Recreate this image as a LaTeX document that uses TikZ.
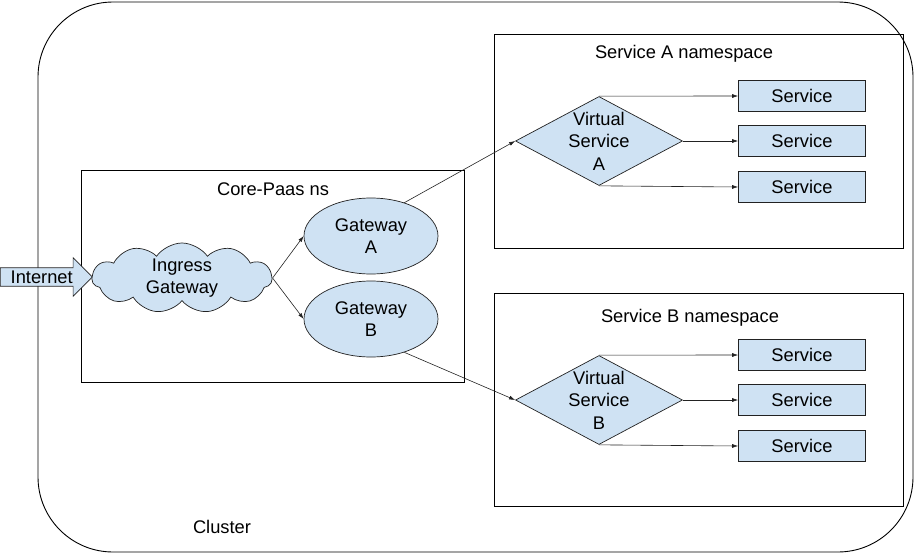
\documentclass[tikz,border=0pt]{standalone}
\usepackage{fontspec}
\setmainfont{Liberation Sans}
\usetikzlibrary{shapes.geometric, shapes.symbols, shapes.arrows, arrows.meta}
\definecolor{paleblue}{HTML}{CFE2F3}
\definecolor{inkline}{HTML}{222222}

\begin{document}
\begin{tikzpicture}[x=1pt, y=-1pt,
    every node/.style={font=\fontsize{18.3}{22.5}\selectfont},
    nsbox/.style={draw=black, line width=0.9pt},
    gwnode/.style={ellipse, draw=inkline, fill=paleblue, line width=0.7pt, inner sep=-4pt,
      minimum width=134pt, minimum height=76pt, align=center},
    vsnode/.style={diamond, draw=inkline, fill=paleblue, line width=0.7pt, inner sep=-9pt,
      aspect=1.88, minimum width=167pt, minimum height=89pt, align=center},
    svcnode/.style={rectangle, draw=inkline, fill=paleblue, line width=0.7pt,
      minimum width=127pt, minimum height=31pt, inner sep=0pt},
    link/.style={-{Latex[length=6pt,width=4pt]}, line width=0.6pt, inkline}]
    \useasboundingbox (0,0) rectangle (919,557);

    % Cluster and namespaces
    \draw[nsbox, rounded corners=75pt] (38,2) rectangle (913,552);
    \node (clusterlbl) at (222,527) {Cluster};
    \draw[nsbox] (81,170) rectangle (464,382);
    \node (corelbl) at (273,189) {Core-Paas ns};
    \draw[nsbox] (494,34) rectangle (903,248);
    \node (nsalbl) at (684,54) {Service A namespace};
    \draw[nsbox] (494,293) rectangle (903,506);
    \node (nsblbl) at (690,318) {Service B namespace};

    % Entry into the cluster
    \node[single arrow, draw=inkline, fill=paleblue, line width=0.7pt, inner xsep=1pt, inner ysep=2.5pt,
      single arrow head extend=10pt, minimum height=92pt, anchor=west] (internet) at (0,277) {Internet};
    \node[cloud, cloud puffs=11, cloud puff arc=110, aspect=2.6, draw=inkline, fill=paleblue,
      line width=0.7pt, inner sep=-6pt, minimum width=180pt, minimum height=70pt, align=center]
      (ingress) at (182,278) {Ingress\\Gateway};

    % Gateways
    \node[gwnode] (gwa) at (371,236) {Gateway\\A};
    \node[gwnode] (gwb) at (371,319) {Gateway\\B};
    \draw[link] (ingress.east) -- (gwa.west);
    \draw[link] (ingress.east) -- (gwb.west);

    % Virtual services
    \node[vsnode] (vsa) at (599,141) {Virtual\\Service\\A};
    \node[vsnode] (vsb) at (599,400) {Virtual\\Service\\B};
    \draw[link] (gwa.45) -- (vsa.west);
    \draw[link] (gwb.-45) -- (vsb.west);

    % Services A
    \node[svcnode] (sa1) at (802,96) {Service};
    \node[svcnode] (sa2) at (802,141) {Service};
    \node[svcnode] (sa3) at (802,187) {Service};
    \draw[link] (vsa.north) -- (sa1.west);
    \draw[link] (vsa.east) -- (sa2.west);
    \draw[link] (vsa.south) -- (sa3.west);

    % Services B
    \node[svcnode] (sb1) at (802,355) {Service};
    \node[svcnode] (sb2) at (802,400) {Service};
    \node[svcnode] (sb3) at (802,446) {Service};
    \draw[link] (vsb.north) -- (sb1.west);
    \draw[link] (vsb.east) -- (sb2.west);
    \draw[link] (vsb.south) -- (sb3.west);
  \end{tikzpicture}
\end{document}
